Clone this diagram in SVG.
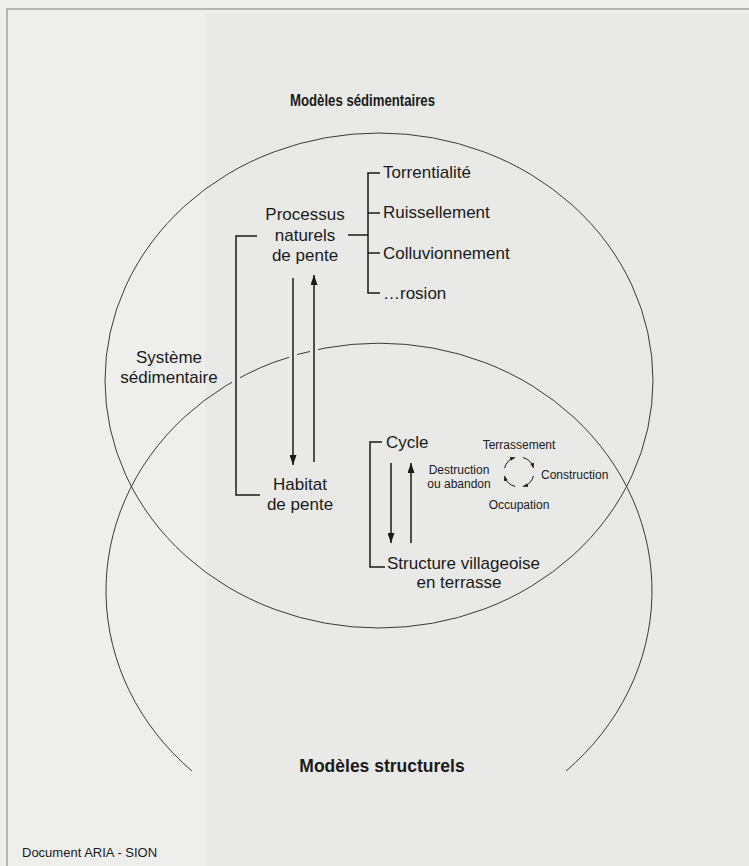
<svg xmlns="http://www.w3.org/2000/svg" width="749" height="866" viewBox="0 0 749 866">
  <defs>
    <marker id="ah" markerUnits="userSpaceOnUse" markerWidth="10" markerHeight="7" refX="10" refY="3.5" orient="auto">
      <path d="M0,0 L10,3.5 L0,7 z" fill="#1a1a1a"/>
    </marker>
    <marker id="ahs" markerUnits="userSpaceOnUse" markerWidth="5" markerHeight="4" refX="5" refY="2" orient="auto">
      <path d="M0,0 L5,2 L0,4 z" fill="#1a1a1a"/>
    </marker>
    <style>
      .t { font-family: "Liberation Sans", Arial, sans-serif; fill: #1a1a1a; font-size: 17px; }
      .s { font-family: "Liberation Sans", Arial, sans-serif; fill: #1a1a1a; font-size: 12px; }
      .b { font-family: "Liberation Sans", Arial, sans-serif; fill: #1a1a1a; font-weight: bold; }
      .m { text-anchor: middle; }
      .ell { fill: none; stroke: #3a3a3a; stroke-width: 1; }
      .ln { fill: none; stroke: #1a1a1a; stroke-width: 1.5; }
      .halo { fill: none; stroke: #e9e9e7; stroke-width: 8; }
      .cyc { fill: none; stroke: #1a1a1a; stroke-width: 1; }
    </style>
  </defs>

  <!-- page background -->
  <rect x="0" y="0" width="749" height="866" fill="#eeeeec"/>
  <rect x="205" y="14" width="544" height="852" fill="#e9e9e7"/>
  <path d="M7,866 L7,9 L749,9" fill="none" stroke="#a3a3a3" stroke-width="1.5"/>

  <!-- ellipses -->
  <g id="models">
    <ellipse class="ell" cx="379" cy="380.5" rx="274" ry="247.5"/>
    <path class="ell" d="M192,771 A273,247.5 0 1 1 566,771"/>
  </g>

  <!-- connectors -->
  <g id="connectors">
    <!-- gaps in ellipse around vertical lines -->
    <line class="halo" x1="236" y1="372" x2="236" y2="388"/>
    <line class="halo" x1="293" y1="347" x2="293" y2="364"/>
    <line class="halo" x1="314" y1="342" x2="314" y2="358"/>

    <!-- left bracket: Processus to Habitat -->
    <path class="ln" d="M257,236 L236,236 L236,495 L260,495"/>
    <!-- arrows between Processus and Habitat -->
    <line class="ln" x1="293" y1="278" x2="293" y2="465" marker-end="url(#ah)"/>
    <line class="ln" x1="314" y1="462" x2="314" y2="275" marker-end="url(#ah)"/>

    <!-- Processus list bracket -->
    <line class="ln" x1="348" y1="235" x2="368" y2="235"/>
    <path class="ln" d="M380,173 L368,173 L368,293 L380,293"/>
    <line class="ln" x1="368" y1="213" x2="380" y2="213"/>
    <line class="ln" x1="368" y1="253" x2="380" y2="253"/>

    <!-- Cycle bracket -->
    <path class="ln" d="M382,442 L370,442 L370,567 L385,567"/>
    <line class="ln" x1="391" y1="463" x2="391" y2="543" marker-end="url(#ah)"/>
    <line class="ln" x1="411" y1="543" x2="411" y2="463" marker-end="url(#ah)"/>

    <!-- small cycle -->
    <path class="cyc" d="M504.5,468.1 A15,15 0 0 1 515.1,457.5" marker-end="url(#ahs)"/>
    <path class="cyc" d="M522.9,457.5 A15,15 0 0 1 533.5,468.1" marker-end="url(#ahs)"/>
    <path class="cyc" d="M533.5,475.9 A15,15 0 0 1 522.9,486.5" marker-end="url(#ahs)"/>
    <path class="cyc" d="M515.1,486.5 A15,15 0 0 1 504.5,475.9" marker-end="url(#ahs)"/>
  </g>

  <!-- titles -->
  <g id="title-sed"><text class="b" x="290" y="106" style="font-size:17px" textLength="145" lengthAdjust="spacingAndGlyphs">Modèles sédimentaires</text></g>
  <g id="title-struct"><text class="b m" x="382" y="772" style="font-size:17.5px">Modèles structurels</text></g>

  <g id="processus">
    <text class="t m" x="305" y="220">Processus</text>
    <text class="t m" x="305" y="241">naturels</text>
    <text class="t m" x="305" y="261">de pente</text>
  </g>
  <g id="list">
    <text class="t" x="383" y="178">Torrentialité</text>
    <text class="t" x="383" y="218">Ruissellement</text>
    <text class="t" x="383" y="259">Colluvionnement</text>
    <text class="t" x="383" y="299">…rosion</text>
  </g>
  <g id="systeme">
    <text class="t m" x="169" y="363">Système</text>
    <text class="t m" x="169" y="383">sédimentaire</text>
  </g>
  <g id="habitat">
    <text class="t m" x="300" y="490">Habitat</text>
    <text class="t m" x="300" y="510">de pente</text>
  </g>
  <g id="cycle"><text class="t" x="386" y="448">Cycle</text></g>
  <g id="structure">
    <text class="t" x="387" y="569" stroke="#e9e9e7" stroke-width="4" paint-order="stroke">Structure villageoise</text>
    <text class="t m" x="459" y="588">en terrasse</text>
  </g>
  <g id="terrassement"><text class="s m" x="519" y="449">Terrassement</text></g>
  <g id="construction"><text class="s" x="541" y="479">Construction</text></g>
  <g id="occupation"><text class="s m" x="519" y="509">Occupation</text></g>
  <g id="destruction">
    <text class="s m" x="459" y="474">Destruction</text>
    <text class="s m" x="459" y="488">ou abandon</text>
  </g>
  <g id="source"><text class="s" x="22" y="857" style="font-size:13px">Document ARIA - SION</text></g>
</svg>
